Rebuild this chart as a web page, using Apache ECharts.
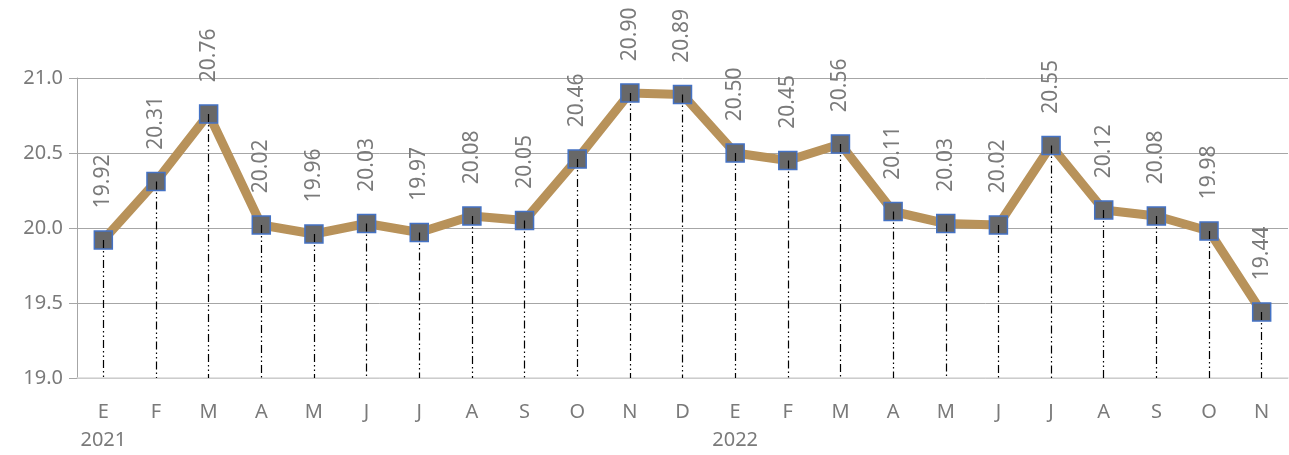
<!DOCTYPE html>
<html><head><meta charset="utf-8">
<script src="https://cdn.jsdelivr.net/npm/echarts@6/dist/echarts.min.js"></script>
<style>html,body{margin:0;padding:0;background:#fff}#c{width:1289px;height:455px}</style>
</head><body><div id="c"></div>
<script>
const months = ['E','F','M','A','M','J','J','A','S','O','N','D','E','F','M','A','M','J','J','A','S','O','N'];
const years = ['2021','','','','','','','','','','','','2022','','','','','','','','','',''];
const values = [19.92,20.31,20.76,20.02,19.96,20.03,19.97,20.08,20.05,20.46,20.90,20.89,20.50,20.45,20.56,20.11,20.03,20.02,20.55,20.12,20.08,19.98,19.44];
const yTicks = [19.0, 19.5, 20.0, 20.5, 21.0];

const cats = months.map((m,i)=> m + '\n' + years[i]);
const yMin = yTicks[0];
const dropLines = values.map((v,i)=>[{coord:[i, v]},{coord:[i, yMin]}]);

const chart = echarts.init(document.getElementById('c'));
chart.setOption({
  animation:false,
  grid:{left:77,right:1,top:78,height:300},
  xAxis:{
    type:'category', data:cats, boundaryGap:true,
    axisLine:{lineStyle:{color:'#d9d9d9',width:1.5}},
    axisTick:{show:false},
    axisLabel:{color:'#7a7a7a',fontSize:20,fontFamily:'Noto Sans',lineHeight:28,margin:20,interval:0}
  },
  yAxis:{
    type:'value', min:yMin, max:yTicks[yTicks.length-1], interval:0.5,
    axisLine:{show:true,lineStyle:{color:'#a6a6a6'}},
    axisTick:{show:true,length:8,lineStyle:{color:'#a6a6a6'}},
    splitLine:{lineStyle:{color:'#a6a6a6'}},
    axisLabel:{color:'#7a7a7a',fontSize:20,fontFamily:'Noto Sans',margin:14,formatter:v=>v.toFixed(1)}
  },
  series:[{
    type:'line', data:values, z:2,
    lineStyle:{color:'#b8925a',width:9},
    symbol:'rect', symbolSize:18,
    itemStyle:{color:'#686868',borderColor:'#4472c4',borderWidth:1.5},
    label:{show:true,position:'top',distance:22,rotate:90,align:'left',verticalAlign:'middle',
      color:'#7a7a7a',fontSize:21,fontFamily:'Noto Sans',formatter:p=>p.value.toFixed(2)},
    markLine:{silent:true,symbol:['none','none'],z:10,label:{show:false},
      lineStyle:{color:'#000',width:1.2,type:[8,3,1.5,3,1.5,3]},
      data:dropLines}
  }]
});
</script></body></html>
